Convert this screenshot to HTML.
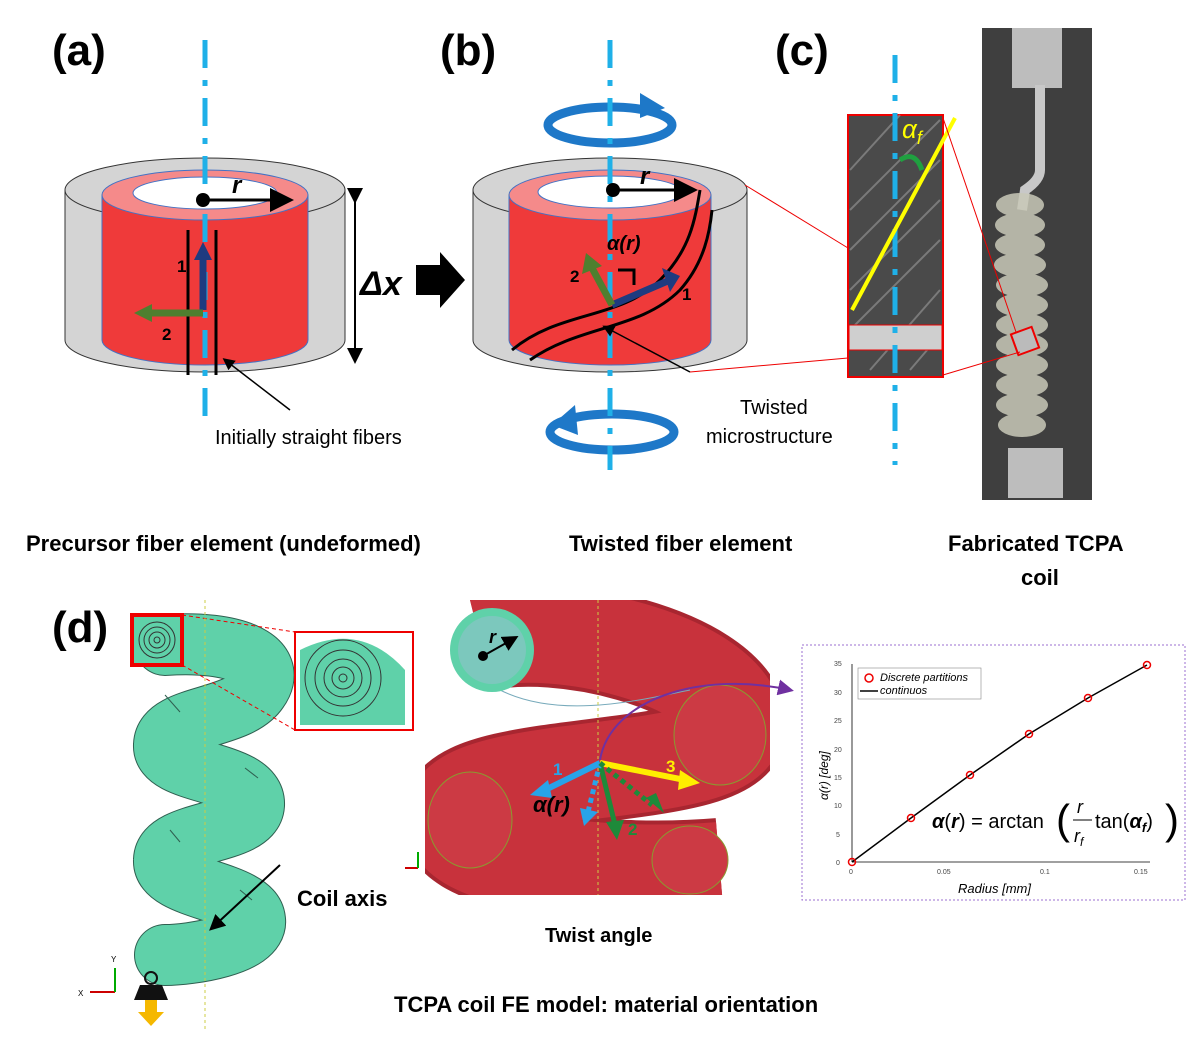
<!DOCTYPE html>
<html><head><meta charset="utf-8"><style>
body{margin:0;background:#fff}
svg{display:block}
text{font-family:"Liberation Sans",sans-serif}
</style></head><body>
<svg width="1196" height="1047" viewBox="0 0 1196 1047" xmlns="http://www.w3.org/2000/svg">
<defs>
<marker id="ab" markerWidth="8" markerHeight="8" refX="6" refY="4" orient="auto"><path d="M0,0 L8,4 L0,8z" fill="#000"/></marker>
<marker id="ap" markerWidth="8" markerHeight="8" refX="6" refY="4" orient="auto"><path d="M0,0 L8,4 L0,8z" fill="#7030a0"/></marker>
<clipPath id="rc"><rect x="425" y="600" width="345" height="295"/></clipPath>
</defs>
<text x="52" y="65" font-size="44" font-weight="bold">(a)</text>
<text x="440" y="65" font-size="44" font-weight="bold">(b)</text>
<text x="775" y="65" font-size="44" font-weight="bold">(c)</text>
<text x="52" y="642" font-size="44" font-weight="bold">(d)</text>

<g>
<path d="M65,190 L65,340 A140,32 0 0 0 345,340 L345,190z" fill="#d4d4d4" stroke="#333"/>
<ellipse cx="205" cy="190" rx="140" ry="32" fill="#d4d4d4" stroke="#333"/>
<path d="M102,195 L102,340 A103,25 0 0 0 308,340 L308,195z" fill="#ef3a3a" stroke="#4472c4"/>
<ellipse cx="205" cy="195" rx="103" ry="25" fill="#f58a8a" stroke="#4472c4"/>
<ellipse cx="205" cy="193" rx="72" ry="16" fill="#fff" stroke="#4472c4"/>
<line x1="205" y1="40" x2="205" y2="420" stroke="#1fb0e8" stroke-width="5" stroke-dasharray="28,12,6,12"/>
<line x1="188" y1="230" x2="188" y2="375" stroke="#000" stroke-width="3"/>
<line x1="216" y1="230" x2="216" y2="375" stroke="#000" stroke-width="3"/>
<circle cx="203" cy="200" r="7" fill="#000"/>
<line x1="203" y1="200" x2="288" y2="200" stroke="#000" stroke-width="3" marker-end="url(#ab)"/>
<text x="232" y="193" font-size="24" font-style="italic" font-weight="bold" font-family="Liberation Serif">r</text>
<line x1="203" y1="310" x2="203" y2="255" stroke="#1f3b80" stroke-width="7"/><path d="M194,260 L203,242 L212,260z" fill="#1f3b80"/>
<line x1="203" y1="313" x2="150" y2="313" stroke="#4f7f2f" stroke-width="7"/><path d="M152,304 L134,313 L152,322z" fill="#4f7f2f"/>
<text x="177" y="272" font-size="17" font-weight="bold">1</text>
<text x="162" y="340" font-size="17" font-weight="bold">2</text>
<line x1="355" y1="200" x2="355" y2="360" stroke="#000" stroke-width="2" marker-end="url(#ab)" marker-start="url(#ab)"/>
<text x="360" y="295" font-size="34" font-weight="bold" font-family="Liberation Serif" font-style="italic">Δx</text>
<path d="M416,265 L440,265 L440,252 L465,280 L440,308 L440,295 L416,295z" fill="#000"/>
<line x1="290" y1="410" x2="225" y2="360" stroke="#000" stroke-width="1.5" marker-end="url(#ab)"/>
<text x="215" y="444" font-size="20">Initially straight fibers</text>
</g>

<g>
<ellipse cx="610" cy="125" rx="62" ry="18" fill="none" stroke="#1e78c8" stroke-width="9"/>
<path d="M640,93 L665,108 L640,118z" fill="#1e78c8"/>
<ellipse cx="612" cy="432" rx="62" ry="18" fill="none" stroke="#1e78c8" stroke-width="9"/>
<path d="M575,405 L552,425 L578,435z" fill="#1e78c8"/>
<path d="M473,190 L473,340 A137,32 0 0 0 747,340 L747,190z" fill="#d4d4d4" stroke="#333"/>
<ellipse cx="610" cy="190" rx="137" ry="32" fill="#d4d4d4" stroke="#333"/>
<path d="M509,195 L509,340 A101,25 0 0 0 711,340 L711,195z" fill="#ef3a3a" stroke="#4472c4"/>
<ellipse cx="610" cy="195" rx="101" ry="25" fill="#f58a8a" stroke="#4472c4"/>
<ellipse cx="610" cy="192" rx="72" ry="16" fill="#fff" stroke="#4472c4"/>
<line x1="610" y1="40" x2="610" y2="470" stroke="#1fb0e8" stroke-width="5" stroke-dasharray="28,12,6,12"/>
<path d="M512,350 C560,310 620,320 660,280 C690,250 695,220 700,190" fill="none" stroke="#000" stroke-width="3"/>
<path d="M530,360 C580,325 640,330 680,290 C705,262 710,230 712,210" fill="none" stroke="#000" stroke-width="3"/>
<circle cx="613" cy="190" r="7" fill="#000"/>
<line x1="613" y1="190" x2="692" y2="190" stroke="#000" stroke-width="3" marker-end="url(#ab)"/>
<text x="640" y="184" font-size="24" font-style="italic" font-weight="bold" font-family="Liberation Serif">r</text>
<text x="607" y="250" font-size="20" font-weight="bold" font-family="Liberation Serif" font-style="italic">α(r)</text>
<line x1="612" y1="305" x2="670" y2="280" stroke="#1f3b80" stroke-width="7"/><path d="M662,268 L680,276 L670,292z" fill="#1f3b80"/>
<line x1="612" y1="305" x2="592" y2="268" stroke="#4f7f2f" stroke-width="7"/><path d="M582,274 L586,253 L602,266z" fill="#4f7f2f"/>
<path d="M618,270 L634,270 L634,285" fill="none" stroke="#000" stroke-width="3"/>
<text x="570" y="282" font-size="17" font-weight="bold">2</text>
<text x="682" y="300" font-size="17" font-weight="bold">1</text>
<line x1="690" y1="372" x2="605" y2="327" stroke="#000" stroke-width="1.5" marker-end="url(#ab)"/>
<text x="740" y="414" font-size="20">Twisted</text>
<text x="706" y="443" font-size="20">microstructure</text>
<line x1="745" y1="185" x2="848" y2="248" stroke="#e00" stroke-width="1"/>
<line x1="690" y1="372" x2="848" y2="358" stroke="#e00" stroke-width="1"/>
</g>

<g>
<rect x="848" y="115" width="95" height="262" fill="#4a4a4a" stroke="#e00" stroke-width="2"/>
<g stroke="#9a9a9a" stroke-width="2" opacity="0.6">
<line x1="850" y1="170" x2="900" y2="115"/><line x1="850" y1="210" x2="940" y2="120"/><line x1="850" y1="250" x2="940" y2="160"/><line x1="850" y1="290" x2="940" y2="200"/><line x1="850" y1="330" x2="940" y2="240"/><line x1="870" y1="370" x2="940" y2="290"/><line x1="910" y1="370" x2="940" y2="335"/>
</g>
<rect x="849" y="325" width="93" height="25" fill="#cfcfcf" stroke="#e00"/>
<line x1="895" y1="55" x2="895" y2="465" stroke="#1fb0e8" stroke-width="5" stroke-dasharray="28,12,6,12"/>
<line x1="852" y1="310" x2="955" y2="118" stroke="#ffff00" stroke-width="4"/>
<path d="M900,160 Q915,150 922,170" fill="none" stroke="#1fa040" stroke-width="5"/>
<text x="902" y="138" font-size="26" fill="#ffff00" font-style="italic" font-family="Liberation Serif">α<tspan font-size="18" dy="6">f</tspan></text>
<rect x="982" y="28" width="110" height="472" fill="#3f3f3f"/>
<rect x="1012" y="28" width="50" height="60" fill="#bdbdbd"/>
<path d="M1040,85 L1040,170 Q1040,180 1025,190 L1022,210" stroke="#c8c8c8" stroke-width="10" fill="none"/>
<g fill="#c9c9b8" opacity="0.85">
<ellipse cx="1020" cy="205" rx="24" ry="12"/><ellipse cx="1020" cy="225" rx="25" ry="12"/><ellipse cx="1020" cy="245" rx="25" ry="12"/><ellipse cx="1020" cy="265" rx="26" ry="12"/><ellipse cx="1022" cy="285" rx="26" ry="12"/><ellipse cx="1022" cy="305" rx="26" ry="12"/><ellipse cx="1022" cy="325" rx="26" ry="12"/><ellipse cx="1022" cy="345" rx="26" ry="12"/><ellipse cx="1022" cy="365" rx="26" ry="12"/><ellipse cx="1022" cy="385" rx="26" ry="12"/><ellipse cx="1022" cy="405" rx="26" ry="12"/><ellipse cx="1022" cy="425" rx="24" ry="12"/>
</g>
<rect x="1008" y="448" width="55" height="50" fill="#bdbdbd"/>
<rect x="1014" y="330" width="22" height="22" fill="#bbb" stroke="#e00" stroke-width="2" transform="rotate(-20 1025 341)"/>
<line x1="943" y1="118" x2="1016" y2="332" stroke="#e00" stroke-width="1"/>
<line x1="943" y1="375" x2="1020" y2="352" stroke="#e00" stroke-width="1"/>
</g>

<text x="26" y="551" font-size="22" font-weight="bold">Precursor fiber element (undeformed)</text>
<text x="569" y="551" font-size="22" font-weight="bold">Twisted fiber element</text>
<text x="948" y="551" font-size="22" font-weight="bold">Fabricated TCPA</text>
<text x="1021" y="585" font-size="22" font-weight="bold">coil</text>

<g fill="none" stroke-linecap="round">
<path d="M165,645 C235,640 280,660 258,690 C238,720 165,715 164,745 C162,775 256,770 254,805 C252,835 165,830 164,860 C162,890 252,890 255,920 C258,945 190,955 165,955" stroke="#2f5f50" stroke-width="62"/>
<path d="M165,645 C235,640 280,660 258,690 C238,720 165,715 164,745 C162,775 256,770 254,805 C252,835 165,830 164,860 C162,890 252,890 255,920 C258,945 190,955 165,955" stroke="#5fd1a9" stroke-width="60"/>
</g>
<g fill="none" stroke="#2f5f50" stroke-width="1">
<path d="M165,695 L180,712"/><path d="M245,768 L258,778"/><path d="M170,830 L180,842"/><path d="M240,890 L252,900"/>
</g>
<rect x="132" y="615" width="50" height="50" fill="#5fd1a9" stroke="#e00" stroke-width="4"/>
<g fill="none" stroke="#333"><circle cx="157" cy="640" r="18"/><circle cx="157" cy="640" r="13"/><circle cx="157" cy="640" r="8"/><circle cx="157" cy="640" r="3"/></g>
<line x1="182" y1="615" x2="295" y2="632" stroke="#e00" stroke-dasharray="4,3"/>
<line x1="182" y1="665" x2="295" y2="730" stroke="#e00" stroke-dasharray="4,3"/>
<rect x="295" y="632" width="118" height="98" fill="#fff" stroke="#e00" stroke-width="2"/>
<path d="M300,650 Q360,620 405,670 L405,725 L300,725z" fill="#5fd1a9"/>
<g fill="none" stroke="#333"><circle cx="343" cy="678" r="38" fill="#5fd1a9"/><circle cx="343" cy="678" r="28"/><circle cx="343" cy="678" r="19"/><circle cx="343" cy="678" r="11"/><circle cx="343" cy="678" r="4"/></g>
<line x1="205" y1="600" x2="205" y2="1030" stroke="#cccc44" stroke-dasharray="3,3"/>
<line x1="280" y1="865" x2="212" y2="928" stroke="#000" stroke-width="2" marker-end="url(#ab)"/>
<text x="297" y="906" font-size="22" font-weight="bold">Coil axis</text>
<line x1="115" y1="992" x2="90" y2="992" stroke="#c00" stroke-width="2"/><line x1="115" y1="992" x2="115" y2="968" stroke="#0a0" stroke-width="2"/>
<text x="78" y="996" font-size="8">X</text><text x="111" y="962" font-size="8">Y</text>
<path d="M140,985 L162,985 L168,1000 L134,1000z" fill="#111"/><circle cx="151" cy="978" r="6" fill="none" stroke="#111" stroke-width="2"/>
<path d="M145,1000 L157,1000 L157,1012 L164,1012 L151,1026 L138,1012 L145,1012z" fill="#f5b800"/>

<g clip-path="url(#rc)">
<path d="M480,640 C560,620 720,660 735,720 C750,780 480,760 455,810 C430,860 600,880 720,870" fill="none" stroke="#a82630" stroke-width="104"/>
<path d="M480,640 C560,620 720,660 735,720 C750,780 480,760 455,810 C430,860 600,880 720,870" fill="none" stroke="#c8323c" stroke-width="96"/>
<ellipse cx="720" cy="735" rx="46" ry="50" fill="#cc3a44" stroke="#8a9a30"/>
<ellipse cx="470" cy="820" rx="42" ry="48" fill="#cc3a44" stroke="#8a9a30"/>
<ellipse cx="690" cy="860" rx="38" ry="34" fill="#cc3a44" stroke="#8a9a30"/>
<path d="M500,690 C560,720 640,700 690,690" fill="none" stroke="#7ab" stroke-width="1"/>
</g>
<circle cx="492" cy="650" r="42" fill="#5fd1a9"/>
<circle cx="492" cy="650" r="34" fill="#7cc8bd"/>
<circle cx="483" cy="656" r="5" fill="#000"/>
<line x1="483" y1="656" x2="515" y2="638" stroke="#000" stroke-width="2" marker-end="url(#ab)"/>
<text x="489" y="643" font-size="18" font-style="italic" font-weight="bold" font-family="Liberation Serif">r</text>
<line x1="598" y1="600" x2="598" y2="895" stroke="#cccc44" stroke-dasharray="3,3"/>
<path d="M600,760 C610,700 700,670 790,690" fill="none" stroke="#7030a0" stroke-width="2" marker-end="url(#ap)"/>
<line x1="600" y1="763" x2="545" y2="790" stroke="#29a3e8" stroke-width="6"/><path d="M548,780 L530,795 L552,798z" fill="#29a3e8"/>
<line x1="600" y1="763" x2="685" y2="780" stroke="#ffee00" stroke-width="6"/><path d="M680,770 L700,783 L678,790z" fill="#ffee00"/>
<line x1="600" y1="763" x2="615" y2="825" stroke="#1e8a3a" stroke-width="5"/><path d="M606,822 L617,840 L624,820z" fill="#1e8a3a"/>
<line x1="600" y1="763" x2="588" y2="812" stroke="#29a3e8" stroke-width="5" stroke-dasharray="5,4"/><path d="M580,808 L584,826 L598,812z" fill="#29a3e8"/>
<line x1="600" y1="763" x2="652" y2="805" stroke="#1e8a3a" stroke-width="5" stroke-dasharray="5,4"/><path d="M646,798 L664,813 L656,793z" fill="#1e8a3a"/>
<text x="553" y="775" font-size="17" fill="#29a3e8" font-weight="bold">1</text>
<text x="666" y="772" font-size="17" fill="#ffee00" font-weight="bold">3</text>
<text x="628" y="835" font-size="17" fill="#1e8a3a" font-weight="bold">2</text>
<text x="533" y="812" font-size="22" font-weight="bold" font-style="italic" font-family="Liberation Serif">α(r)</text>
<line x1="418" y1="868" x2="405" y2="868" stroke="#c00" stroke-width="2"/><line x1="418" y1="868" x2="418" y2="852" stroke="#0a0" stroke-width="2"/>
<text x="545" y="942" font-size="20" font-weight="bold">Twist angle</text>
<text x="394" y="1012" font-size="22" font-weight="bold">TCPA coil FE model: material orientation</text>

<g>
<rect x="802" y="645" width="383" height="255" fill="#fff" stroke="#9b6fd1" stroke-dasharray="2,2"/>
<line x1="852" y1="664" x2="852" y2="862" stroke="#000" stroke-width="0.8"/>
<line x1="852" y1="862" x2="1150" y2="862" stroke="#000" stroke-width="0.8"/>
<g font-size="7" fill="#444">
<text x="836" y="865">0</text><text x="836" y="837">5</text><text x="834" y="808">10</text><text x="834" y="780">15</text><text x="834" y="752">20</text><text x="834" y="723">25</text><text x="834" y="695">30</text><text x="834" y="666">35</text>
<text x="849" y="874">0</text><text x="937" y="874">0.05</text><text x="1040" y="874">0.1</text><text x="1134" y="874">0.15</text>
</g>
<text x="958" y="893" font-size="13" font-style="italic" font-family="Liberation Serif">Radius [mm]</text>
<text transform="translate(828,800) rotate(-90)" font-size="12" font-style="italic" font-family="Liberation Serif">α(r) [deg]</text>
<rect x="858" y="668" width="123" height="31" fill="#fff" stroke="#888" stroke-width="0.6"/>
<circle cx="869" cy="678" r="4" fill="none" stroke="#e00" stroke-width="1.5"/>
<text x="880" y="681" font-size="11" font-style="italic" font-family="Liberation Serif">Discrete partitions</text>
<line x1="860" y1="691" x2="878" y2="691" stroke="#000" stroke-width="1.5"/>
<text x="880" y="694" font-size="11" font-style="italic" font-family="Liberation Serif">continuos</text>
<polyline points="852,862 911,818 970,775 1029,734 1088,698 1147,665" fill="none" stroke="#000" stroke-width="1.5"/>
<g fill="none" stroke="#e00" stroke-width="1.5"><circle cx="852" cy="862" r="3.5"/><circle cx="911" cy="818" r="3.5"/><circle cx="970" cy="775" r="3.5"/><circle cx="1029" cy="734" r="3.5"/><circle cx="1088" cy="698" r="3.5"/><circle cx="1147" cy="665" r="3.5"/></g>
<text x="932" y="828" font-size="20" font-family="Liberation Serif"><tspan font-weight="bold" font-style="italic">α</tspan>(<tspan font-weight="bold" font-style="italic">r</tspan>) = arctan</text>
<text x="1056" y="834" font-size="42" font-family="Liberation Serif">(</text>
<text x="1077" y="813" font-size="18" font-style="italic" font-family="Liberation Serif">r</text>
<line x1="1073" y1="820" x2="1092" y2="820" stroke="#000"/>
<text x="1074" y="842" font-size="18" font-style="italic" font-family="Liberation Serif">r<tspan font-size="12" dy="4">f</tspan></text>
<text x="1095" y="828" font-size="20" font-family="Liberation Serif">tan(<tspan font-weight="bold" font-style="italic">α</tspan><tspan font-size="13" dy="4" font-weight="bold" font-style="italic">f</tspan><tspan dy="-4">)</tspan></text>
<text x="1165" y="834" font-size="42" font-family="Liberation Serif">)</text>
</g>
</svg>
</body></html>
